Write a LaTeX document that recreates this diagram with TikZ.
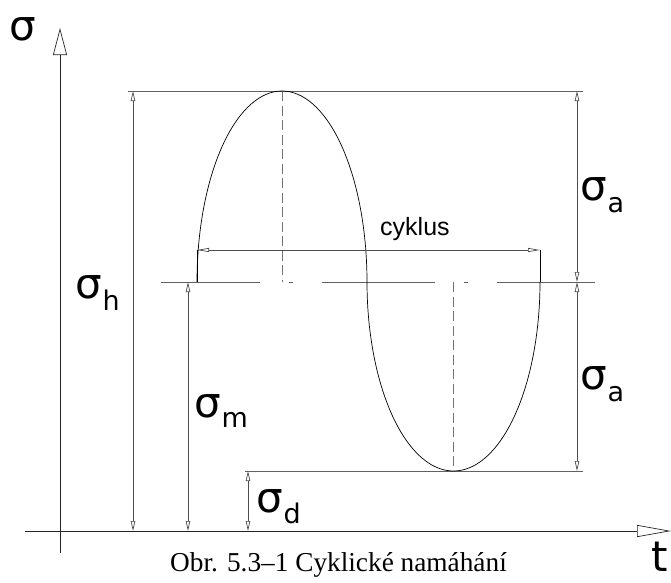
\documentclass[tikz,border=0pt]{standalone}
\usepackage{fontspec}
\setmainfont{Liberation Serif}
\newfontfamily\dv{DejaVu Sans}
\newfontfamily\lsans{Liberation Sans}
\usetikzlibrary{arrows.meta}
\begin{document}
\begin{tikzpicture}[x=1pt,y=-1pt,
  refline/.style={draw=black!62, line width=0.9pt},
  axisline/.style={draw=black!85, line width=0.7pt},
  curveline/.style={draw=black, line width=0.7pt},
  dimline/.style={draw=black!70, line width=0.7pt,
    {Triangle[open,length=10pt,width=4.5pt]}-{Triangle[open,length=10pt,width=4.5pt]}},
  extline/.style={draw=black, line width=0.7pt},
  hiddenline/.style={draw=black!55, line width=0.8pt, dash pattern=on 10pt off 4.5pt},
  biglabel/.style={inner sep=0pt, anchor=base west, font=\dv\fontsize{42}{42}\selectfont},
  smalltext/.style={inner sep=0pt, anchor=base west, font=\lsans\fontsize{25}{25}\selectfont},
  captiontext/.style={inner sep=0pt, anchor=base, font=\fontsize{27.3}{27.3}\selectfont}
]
\useasboundingbox (0,0) rectangle (671,582);
% named points
\coordinate (yax0) at (60,553);
\coordinate (yax1) at (60,28);
\coordinate (xax0) at (25,531);
\coordinate (xax1) at (671,531);
\coordinate (topL) at (128,91);
\coordinate (topR) at (583,91);
\coordinate (botL) at (245,471);
\coordinate (botR) at (583,471);
\coordinate (hT) at (133,91);
\coordinate (hB) at (133,531);
\coordinate (mT) at (188,282);
\coordinate (mB) at (188,531);
\coordinate (dT) at (248,471);
\coordinate (dB) at (248,531);
\coordinate (aT) at (577,91);
\coordinate (aM) at (577,282);
\coordinate (aB) at (577,471);
\coordinate (peak) at (282,91);
\coordinate (c1) at (282,282);
\coordinate (valley) at (453.5,471);
\coordinate (c2) at (453.5,282);
\coordinate (extLb) at (197,282);
\coordinate (cycL) at (197,250);
\coordinate (cycR) at (540,250);
\coordinate (extRb) at (540,282);
% axes
\draw[axisline, -{Triangle[open,length=27pt,width=14pt]}] (yax0) -- (yax1);
\draw[axisline, -{Triangle[open,length=34pt,width=12pt]}] (xax0) -- (xax1);
% reference lines
\draw[refline] (topL) -- (topR);
\draw[refline] (botL) -- (botR);
\coordinate (m1a) at (161,282); \coordinate (m1b) at (260,282);
\coordinate (m2a) at (289,282); \coordinate (m2b) at (293,282);
\coordinate (m3a) at (322,282); \coordinate (m3b) at (435,282);
\coordinate (m4a) at (464,282); \coordinate (m4b) at (468,282);
\coordinate (m5a) at (497,282); \coordinate (m5b) at (595,282);
\draw[refline] (m1a) -- (m1b);
\draw[refline] (m2a) -- (m2b);
\draw[refline] (m3a) -- (m3b);
\draw[refline] (m4a) -- (m4b);
\draw[refline] (m5a) -- (m5b);
% hidden axes of the half waves
\draw[hiddenline] (peak) -- (c1);
\draw[hiddenline] (c2) -- (valley);
% the cycle curve
\draw[curveline] plot[domain=180:0, samples=90, smooth] ({282+85*cos(\x)},{282-191*sin(\x)});
\draw[curveline] plot[domain=180:0, samples=90, smooth] ({453.5+86.5*cos(\x)},{282+189*sin(\x)});
% extension lines for cycle
\draw[extline] (extLb) -- (cycL);
\draw[extline] (extRb) -- (cycR);
% dimensions
\draw[dimline, {Triangle[open,length=12pt,width=4pt]}-{Triangle[open,length=12pt,width=4pt]}] (cycL) -- (cycR);
\draw[dimline] (hT) -- (hB);
\draw[dimline] (mT) -- (mB);
\draw[dimline] (dT) -- (dB);
\draw[dimline] (aT) -- (aM);
\draw[dimline] (aM) -- (aB);
% labels
\node[biglabel] (lsig) at (9.5,40) {σ};
\node[biglabel] (lh) at (75.7,298) {σ\raisebox{-12pt}{\fontsize{27}{27}\selectfont h}};
\node[biglabel] (lm) at (194.7,417) {σ\raisebox{-10pt}{\fontsize{27}{27}\selectfont m}};
\node[biglabel] (ld) at (256.7,512) {σ\raisebox{-11pt}{\fontsize{27}{27}\selectfont d}};
\node[biglabel] (la1) at (580.7,200) {σ\raisebox{-12pt}{\fontsize{27}{27}\selectfont a}};
\node[biglabel] (la2) at (580.7,389) {σ\raisebox{-12pt}{\fontsize{27}{27}\selectfont a}};
\node[biglabel] (lt) at (651,571) {t};
\node[smalltext] (lcyk) at (380,235) {cyklus};
\node[captiontext] (cap) at (338.5,571) {Obr. 5.3–1 Cyklické namáhání};
\end{tikzpicture}
\end{document}
